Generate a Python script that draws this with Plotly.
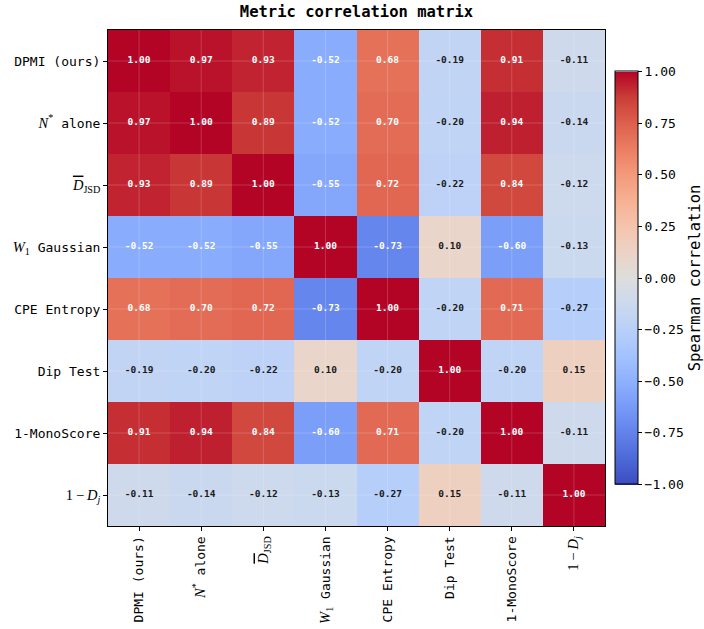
import plotly.graph_objects as go

SERIF = "font-family:'Liberation Serif';font-size:14.5px"
labels = [
    "DPMI (ours)",
    f"<span style=\"{SERIF}\"><i>N</i><sup>*</sup></span> alone",
    f"<span style=\"{SERIF}\"><span style=\"text-decoration:overline\"><i>D</i></span><sub>JSD</sub></span>",
    f"<span style=\"{SERIF}\"><i>W</i><sub>1</sub></span> Gaussian",
    "CPE Entropy",
    "Dip Test",
    "1-MonoScore",
    f"<span style=\"{SERIF}\">1\u2009\u2212\u2009<i>D</i><sub><i>j</i></sub></span>",
]

corr = [
    [1.00, 0.97, 0.93, -0.52, 0.68, -0.19, 0.91, -0.11],
    [0.97, 1.00, 0.89, -0.52, 0.70, -0.20, 0.94, -0.14],
    [0.93, 0.89, 1.00, -0.55, 0.72, -0.22, 0.84, -0.12],
    [-0.52, -0.52, -0.55, 1.00, -0.73, 0.10, -0.60, -0.13],
    [0.68, 0.70, 0.72, -0.73, 1.00, -0.20, 0.71, -0.27],
    [-0.19, -0.20, -0.22, 0.10, -0.20, 1.00, -0.20, 0.15],
    [0.91, 0.94, 0.84, -0.60, 0.71, -0.20, 1.00, -0.11],
    [-0.11, -0.14, -0.12, -0.13, -0.27, 0.15, -0.11, 1.00],
]

coolwarm = [
    [0.0, "rgb(59,76,192)"],
    [0.0625, "rgb(77,104,215)"],
    [0.125, "rgb(98,130,234)"],
    [0.1875, "rgb(119,154,247)"],
    [0.25, "rgb(141,176,254)"],
    [0.3125, "rgb(163,194,255)"],
    [0.375, "rgb(184,208,249)"],
    [0.4375, "rgb(204,217,238)"],
    [0.5, "rgb(221,221,221)"],
    [0.5625, "rgb(236,211,197)"],
    [0.625, "rgb(245,196,173)"],
    [0.6875, "rgb(247,177,148)"],
    [0.75, "rgb(244,154,123)"],
    [0.8125, "rgb(235,126,99)"],
    [0.875, "rgb(222,96,77)"],
    [0.9375, "rgb(203,62,56)"],
    [1.0, "rgb(180,4,38)"],
]

n = len(labels)
idx = list(range(n))
FONT = "DejaVu Sans Mono"

fig = go.Figure()
fig.add_trace(go.Heatmap(
    z=corr, x=idx, y=idx, zmin=-1, zmax=1, colorscale=coolwarm,
    hoverinfo="skip",
    colorbar=dict(
        title=dict(text="Spearman correlation", side="right",
                   font=dict(family=FONT, size=15.5, color="black")),
        x=1.02, xanchor="left", xref="paper", y=0.5, yanchor="middle",
        len=0.833, lenmode="fraction", thickness=23, ypad=0, xpad=0,
        outlinecolor="black", outlinewidth=1,
        tickvals=[-1, -0.75, -0.5, -0.25, 0, 0.25, 0.5, 0.75, 1],
        tickformat=".2f", ticks="outside", ticklen=4, tickcolor="black",
        tickfont=dict(family=FONT, size=13, color="black"),
    ),
))

# faint grid lines at cell centres
for k in idx:
    fig.add_trace(go.Scatter(x=[-0.5, n - 0.5], y=[k, k], mode="lines",
                             line=dict(color="rgba(255,255,255,0.18)", width=1),
                             hoverinfo="skip", showlegend=False))
    fig.add_trace(go.Scatter(x=[k, k], y=[-0.5, n - 0.5], mode="lines",
                             line=dict(color="rgba(255,255,255,0.18)", width=1),
                             hoverinfo="skip", showlegend=False))

for color, cond in (("white", lambda v: abs(v) > 0.5), ("#1a1a1a", lambda v: abs(v) <= 0.5)):
    xs, ys, ts = [], [], []
    for i in idx:
        for j in idx:
            v = corr[i][j]
            if cond(v):
                xs.append(j); ys.append(i); ts.append(f"{v:.2f}")
    fig.add_trace(go.Scatter(x=xs, y=ys, text=ts, mode="text",
                             textfont=dict(family=FONT, size=9.5, color=color, weight="bold"),
                             hoverinfo="skip", showlegend=False))

axis_common = dict(
    tickvals=idx, ticktext=labels, showgrid=False, zeroline=False,
    showline=True, linecolor="black", linewidth=1.2, mirror=True,
    ticks="outside", ticklen=4, tickcolor="black",
    tickfont=dict(family=FONT, size=13, color="black"),
    range=[-0.5, n - 0.5], automargin=False,
)
fig.update_xaxes(**axis_common, tickangle=-90)
fig.update_yaxes(**axis_common)
fig.update_yaxes(range=[n - 0.5, -0.5])

fig.update_layout(
    width=704, height=629,
    margin=dict(l=108, r=99, t=30, b=103, autoexpand=False),
    paper_bgcolor="white", plot_bgcolor="white",
    title=dict(text="<b>Metric correlation matrix</b>", x=0.5, xref="paper",
               y=1 - 12 / 629, yanchor="middle",
               font=dict(family=FONT, size=15.5, color="black")),
    showlegend=False,
)

fig.write_html("out.html", config={"displayModeBar": False},
               post_script="document.body.style.margin='0';document.body.style.padding='0';")
